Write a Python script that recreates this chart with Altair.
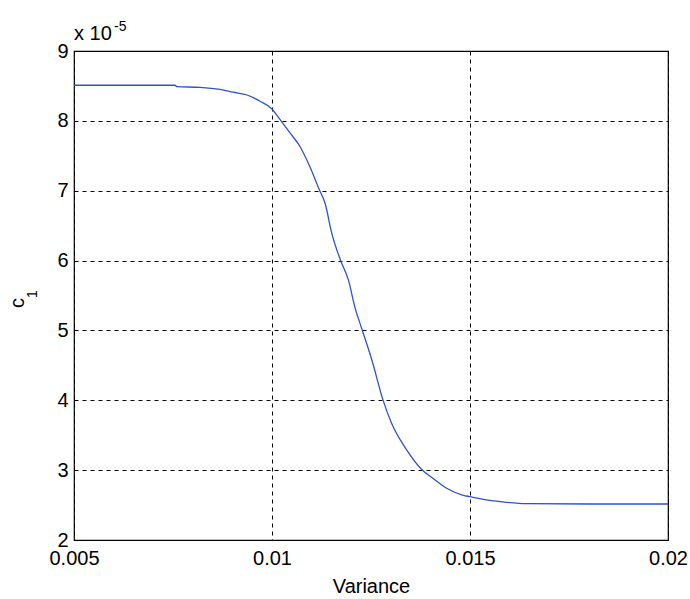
import altair as alt
import pandas as pd

# Variance (x) and c1 in units of 1e-5 (y)
variance = [0.005, 0.0065, 0.00755, 0.0076, 0.00818, 0.00869, 0.00902, 0.00937, 0.0097,
            0.0100, 0.0102, 0.01045, 0.01071, 0.01096, 0.01119, 0.01134, 0.01151,
            0.01172, 0.01193, 0.0121, 0.01227, 0.01252, 0.0128, 0.01302, 0.0134,
            0.01378, 0.01407, 0.01441, 0.01483, 0.0150, 0.01534, 0.01576, 0.01643,
            0.0180, 0.0200]
c1 = [8.51, 8.51, 8.51, 8.49, 8.48, 8.45, 8.41, 8.37, 8.28,
      8.17, 8.02, 7.83, 7.63, 7.34, 7.02, 6.82, 6.39,
      6.02, 5.72, 5.32, 5.02, 4.58, 4.01, 3.67, 3.29,
      3.01, 2.88, 2.74, 2.64, 2.62, 2.58, 2.55, 2.52,
      2.515, 2.515]

x_ticks = [0.005, 0.01, 0.015, 0.02]
y_ticks = [2, 3, 4, 5, 6, 7, 8, 9]

df = pd.DataFrame({"variance": variance, "c1": c1})
one = pd.DataFrame({"k": [0]})

FONT = "Liberation Sans"
W, H = 594, 489

line = alt.Chart(df).mark_line(color="#2f52c8", strokeWidth=1.3, interpolate="monotone").encode(
    x=alt.X("variance:Q",
            scale=alt.Scale(domain=[0.005, 0.02], nice=False, zero=False),
            axis=alt.Axis(values=x_ticks, format=".3~f", title="Variance",
                          grid=True, ticks=False, domain=False, labelFlush=False,
                          labelPadding=8, titlePadding=8)),
    y=alt.Y("c1:Q",
            scale=alt.Scale(domain=[2, 9], nice=False, zero=False),
            axis=alt.Axis(values=y_ticks, format="d", title=None,
                          grid=True, ticks=False, domain=False, labelFlush=False,
                          labelPadding=6)),
)

layers = [line]
for t, xx, yy, fs in [("x 10", 0, -11, 20), ("-5", 40, -20, 14)]:
    layers.append(alt.Chart(one).mark_text(text=t, fontSize=fs, font=FONT, align="left",
                                           baseline="alphabetic", color="black").encode(
        x=alt.value(xx), y=alt.value(yy)))

# y-axis title c with subscript 1, rotated
layers.append(alt.Chart(one).mark_text(text="c", fontSize=20, font=FONT, align="center",
                                       baseline="alphabetic", angle=270, color="black").encode(
    x=alt.value(-50), y=alt.value(252)))
layers.append(alt.Chart(one).mark_text(text="1", fontSize=14, font=FONT, align="center",
                                       baseline="alphabetic", angle=270, color="black").encode(
    x=alt.value(-37), y=alt.value(243)))

chart = alt.layer(*layers).properties(
    width=W, height=H,
    background="white",
    autosize=alt.AutoSizeParams(type="none"),
    padding={"left": 74, "top": 51, "right": 22, "bottom": 59},
).configure_view(
    stroke="black", strokeWidth=1.2
).configure_axis(
    labelFont=FONT, titleFont=FONT, labelFontSize=20, titleFontSize=20,
    labelColor="black", titleColor="black", titleFontWeight="normal",
    gridColor="black", gridDash=[4, 4], gridOpacity=1, gridWidth=1,
)

chart.save("out.html", embed_options={"renderer": "svg", "actions": False})
